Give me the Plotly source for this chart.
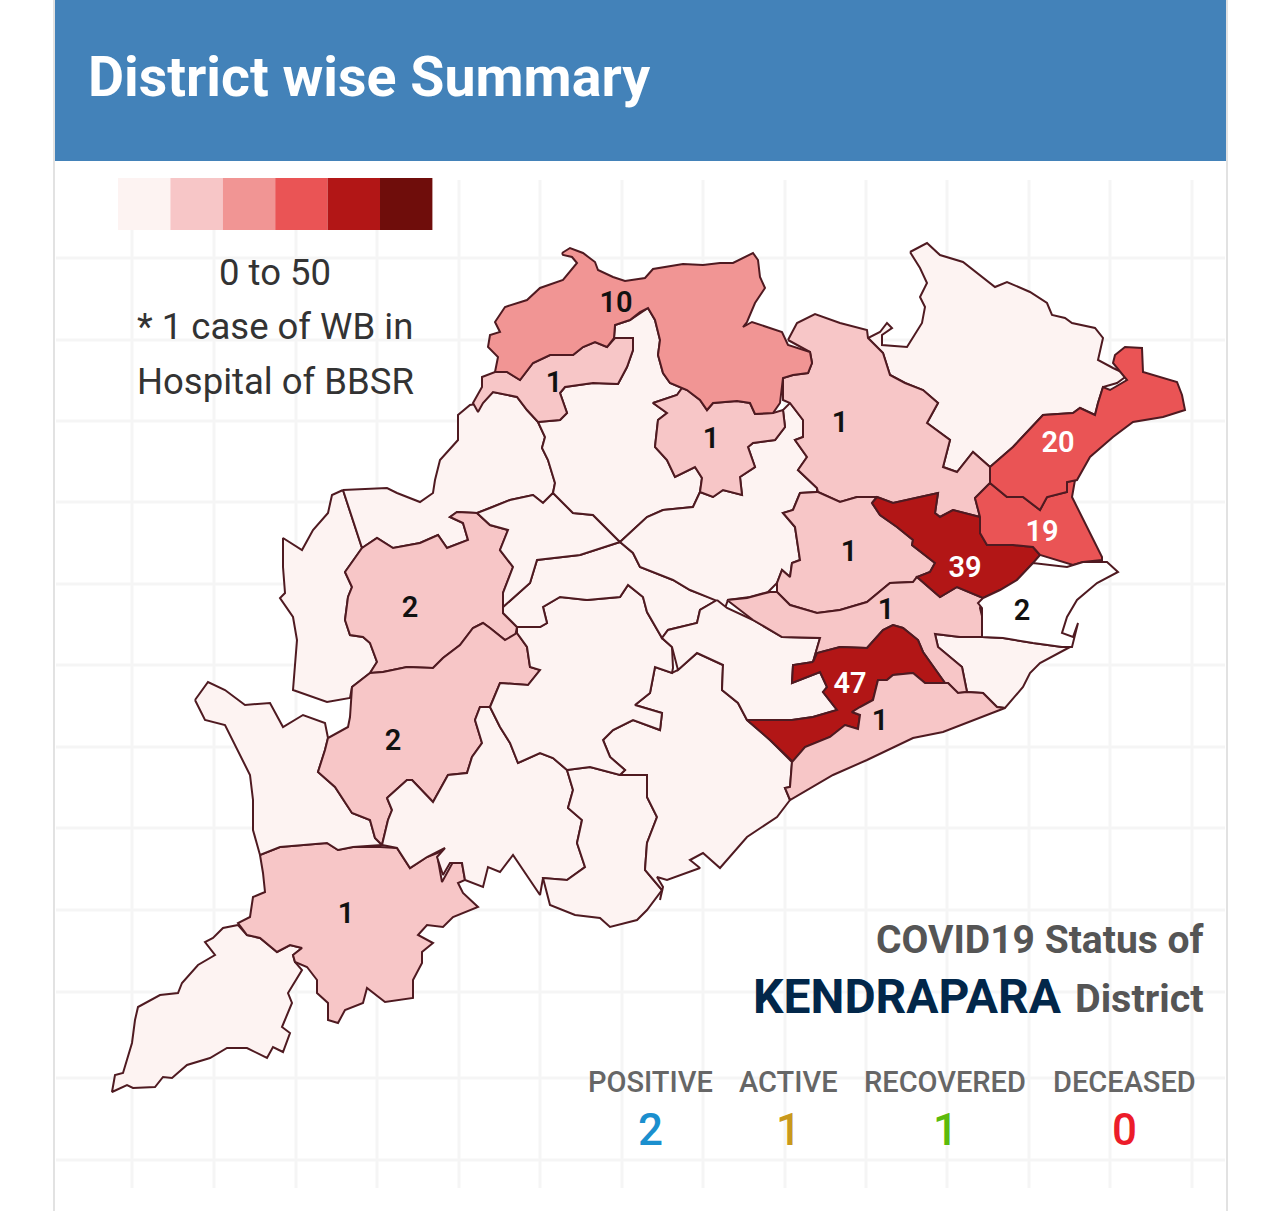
import plotly.graph_objects as go

# district outlines in page pixels
malkangiri = [(238,925),(223,928),(213,938),(205,942),(215,955),(198,965),(182,983),(178,993),(160,995),(138,1007),(135,1020),(132,1043),(123,1073),(115,1075),(112,1092),(127,1085),(133,1088),(155,1087),(163,1077),(172,1078),(187,1065),(210,1058),(227,1048),(247,1048),(267,1058),(273,1047),(283,1052),(290,1033),(282,1027),(292,1003),(288,993),(302,970),(295,962),(293,955),(302,948),(290,945),(277,952),(260,938),(247,935)]
koraput = [(260,855),(280,847),(327,843),(338,850),(353,847),(380,847),(397,848),(410,868),(427,857),(445,850),(438,860),(442,882),(453,862),(462,863),(465,880),(458,883),(463,893),(478,907),(453,917),(443,927),(427,925),(418,935),(433,943),(422,952),(422,963),(413,980),(413,998),(385,1002),(367,988),(363,1003),(345,1010),(338,1023),(328,1020),(328,1003),(317,993),(317,980),(307,967),(295,962),(293,955),(302,948),(290,945),(277,952),(260,938),(247,935),(238,923),(250,917),(253,897),(265,892),(263,873)]
nabarangpur = [(195,700),(208,682),(225,690),(245,705),(270,703),(283,727),(303,715),(325,723),(328,738),(325,750),(318,772),(335,787),(352,813),(370,820),(375,838),(382,845),(353,847),(338,850),(327,843),(280,847),(260,855),(253,830),(253,800),(250,775),(225,725),(205,720)]
nuapada = [(343,490),(332,495),(328,513),(313,530),(302,550),(283,538),(283,567),(285,593),(280,598),(293,617),(297,640),(293,690),(327,702),(350,698),(352,687),(370,673),(377,662),(370,643),(363,637),(350,635),(345,620),(348,597),(352,587),(345,572),(362,548)]
bargarh = [(343,490),(387,488),(397,493),(420,502),(433,493),(435,480),(440,460),(458,440),(458,415),(470,405),(482,403),(493,392),(517,397),(527,410),(538,422),(545,437),(542,448),(548,460),(555,483),(553,493),(543,503),(533,495),(510,500),(490,508),(477,513),(457,512),(450,517),(463,523),(468,540),(447,548),(438,535),(420,543),(393,548),(377,538),(362,548)]
balangir = [(362,548),(377,538),(393,548),(420,543),(438,535),(447,548),(468,540),(463,523),(450,517),(457,512),(477,513),(490,525),(508,530),(500,550),(513,567),(503,593),(503,613),(517,627),(515,637),(505,640),(490,628),(483,623),(473,628),(460,645),(443,658),(433,668),(407,667),(383,672),(370,673),(377,662),(370,643),(363,637),(350,635),(345,620),(348,597),(352,587),(345,572)]
kalahandi = [(370,673),(383,672),(407,667),(433,668),(443,658),(460,645),(473,628),(483,623),(490,628),(505,640),(517,633),(527,647),(530,667),(540,670),(528,685),(500,683),(490,707),(480,707),(475,720),(482,743),(472,757),(467,773),(448,775),(433,802),(412,780),(407,780),(387,798),(392,810),(388,820),(382,845),(375,838),(370,820),(352,813),(335,787),(318,772),(325,750),(328,738),(348,727),(350,717),(352,687)]
rayagada = [(387,798),(407,780),(412,780),(433,802),(448,775),(467,773),(472,757),(482,743),(475,720),(480,707),(490,707),(500,727),(510,743),(518,763),(540,753),(553,758),(567,770),(573,790),(568,808),(582,820),(577,843),(585,867),(567,880),(543,878),(540,895),(513,855),(500,872),(488,867),(483,887),(465,880),(462,863),(450,863),(443,875),(437,857),(445,848),(427,857),(410,868),(397,848),(382,845),(388,820),(392,810)]
gajapati = [(567,770),(590,767),(620,775),(647,775),(647,797),(657,817),(647,843),(645,870),(662,890),(647,910),(637,920),(610,927),(600,918),(575,915),(550,905),(543,878),(567,880),(585,867),(577,843),(582,820),(568,808),(573,790)]
ganjam = [(790,800),(777,817),(747,837),(720,868),(703,853),(690,860),(700,868),(667,880),(657,877),(663,887),(660,900),(662,890),(645,870),(647,843),(657,817),(647,797),(647,775),(620,775),(625,770),(610,757),(603,740),(613,730),(633,720),(660,730),(662,713),(635,705),(650,693),(655,667),(672,673),(678,670),(697,653),(723,665),(722,690),(738,703),(747,720),(770,740),(792,762),(790,787),(785,788)]
kandhamal = [(517,627),(540,627),(547,623),(543,607),(560,597),(587,600),(620,597),(628,585),(643,597),(647,612),(662,638),(672,647),(673,668),(672,673),(655,667),(650,693),(635,705),(662,713),(660,730),(633,720),(613,730),(603,740),(610,757),(625,770),(620,775),(590,767),(567,770),(553,758),(540,753),(518,763),(510,743),(500,727),(490,707),(500,683),(528,685),(540,670),(530,667),(527,647),(517,633)]
boudh = [(620,542),(580,555),(537,560),(530,583),(503,607),(503,613),(517,627),(540,627),(547,623),(543,607),(560,597),(587,600),(620,597),(628,585),(643,597),(647,612),(662,638),(668,630),(697,623),(700,610),(717,600),(690,590),(673,580),(640,567),(633,553)]
subarnapur = [(490,508),(510,500),(533,495),(543,503),(553,493),(573,513),(593,515),(620,542),(580,555),(537,560),(530,583),(503,607),(503,593),(513,567),(500,550),(508,530),(490,525),(477,513)]
sambalpur = [(648,308),(630,320),(615,325),(614,338),(633,338),(633,350),(627,367),(618,384),(593,383),(565,387),(560,393),(567,413),(560,420),(538,422),(545,437),(542,448),(548,460),(555,483),(553,493),(573,513),(593,515),(620,542),(647,517),(663,510),(693,507),(700,492),(702,478),(695,467),(675,477),(667,460),(655,447),(658,420),(667,413),(653,403),(677,395),(682,388),(670,383),(663,373),(658,355),(660,340),(655,320)]
angul = [(620,542),(647,517),(663,510),(693,507),(700,492),(713,497),(723,490),(742,495),(740,477),(755,467),(748,447),(753,443),(775,440),(785,427),(783,410),(790,403),(803,420),(803,437),(795,440),(807,457),(798,470),(817,488),(817,492),(800,493),(793,510),(783,513),(795,527),(800,560),(792,563),(790,577),(782,570),(777,583),(768,592),(750,597),(728,600),(725,608),(715,600),(690,590),(673,580),(640,567),(633,553)]
nayagarh = [(717,600),(727,608),(753,620),(782,637),(820,638),(813,662),(793,665),(792,683),(820,672),(827,687),(823,692),(837,710),(813,717),(792,720),(770,720),(747,720),(738,703),(722,690),(723,665),(697,653),(678,670),(672,647),(662,638),(668,630),(697,623),(700,610)]
jagatsinghpur = [(935,634),(960,637),(982,637),(1003,638),(1033,643),(1062,647),(1070,647),(1040,663),(1030,673),(1023,687),(1005,708),(997,707),(983,693),(967,692),(962,667),(938,647)]
mayurbhanj = [(910,252),(927,243),(940,255),(963,262),(995,287),(1007,282),(1030,292),(1047,303),(1052,315),(1065,318),(1072,323),(1095,328),(1103,338),(1098,360),(1113,368),(1128,375),(1117,383),(1103,387),(1098,403),(1095,415),(1080,408),(1073,413),(1043,415),(1013,447),(990,467),(973,452),(957,472),(943,467),(950,440),(927,423),(938,403),(923,390),(905,383),(890,375),(883,353),(868,338),(880,332),(887,323),(892,328),(882,335),(882,345),(907,347),(922,323),(925,307),(920,297),(927,283),(920,268)]
keonjhar = [(788,340),(797,323),(815,314),(840,323),(867,330),(868,338),(883,353),(890,375),(905,383),(923,390),(938,403),(927,423),(950,440),(943,467),(957,472),(973,452),(990,467),(990,483),(975,498),(980,517),(953,510),(940,517),(935,513),(938,493),(920,497),(893,503),(877,497),(857,497),(840,502),(818,492),(817,488),(798,470),(807,457),(795,440),(803,437),(803,420),(790,403),(783,400),(783,378),(793,375),(808,373),(812,363),(810,352)]
deogarh = [(682,388),(687,390),(700,400),(707,410),(713,403),(737,401),(750,403),(755,414),(773,413),(783,410),(785,427),(775,440),(753,443),(748,447),(755,467),(740,477),(742,495),(723,490),(713,497),(700,492),(702,478),(695,467),(675,477),(667,460),(655,447),(658,420),(667,413),(653,403),(677,395)]
jharsuguda = [(615,338),(633,338),(633,350),(627,367),(618,384),(593,383),(565,387),(560,393),(567,413),(560,420),(538,422),(527,410),(517,397),(493,392),(483,403),(478,412),(473,403),(482,387),(482,377),(495,372),(507,372),(520,380),(533,363),(550,355),(573,355),(583,347),(595,342),(607,347)]
sundargarh = [(562,253),(570,248),(583,253),(595,262),(598,270),(613,277),(625,281),(645,278),(653,269),(683,264),(703,265),(720,263),(733,263),(753,253),(758,260),(760,277),(765,288),(755,303),(747,322),(743,327),(752,322),(767,327),(782,332),(788,345),(810,352),(812,363),(808,373),(793,375),(783,378),(780,403),(773,413),(755,414),(750,403),(737,401),(713,403),(707,410),(700,400),(687,390),(680,387),(670,383),(663,373),(658,355),(660,340),(655,320),(648,308),(640,312),(630,320),(615,325),(614,338),(607,347),(595,342),(583,347),(573,355),(550,355),(533,363),(520,380),(507,372),(495,372),(498,357),(488,347),(490,335),(500,332),(495,322),(505,307),(527,300),(540,288),(563,280),(577,263),(572,257),(563,255)]
dhenkanal = [(817,492),(800,493),(793,510),(783,513),(795,527),(800,560),(792,563),(790,577),(782,570),(777,583),(777,592),(790,605),(817,613),(840,610),(867,602),(890,583),(913,582),(917,577),(930,572),(935,563),(912,545),(913,540),(897,527),(880,515),(872,503),(877,497),(857,497),(840,502),(818,492)]
cuttack = [(727,600),(747,598),(770,592),(777,592),(790,605),(817,613),(840,610),(867,602),(890,583),(913,582),(917,577),(940,597),(957,587),(983,598),(980,608),(983,620),(982,637),(960,637),(935,634),(938,647),(962,667),(967,692),(958,693),(948,683),(945,683),(923,652),(918,640),(903,628),(893,625),(883,630),(867,648),(840,647),(817,653),(813,662),(820,638),(782,637),(753,620)]
khordha = [(813,662),(817,653),(840,647),(867,648),(883,630),(893,625),(903,628),(918,640),(923,652),(945,683),(925,683),(913,673),(893,675),(887,680),(878,680),(873,700),(860,707),(852,712),(860,715),(858,729),(845,725),(830,737),(805,747),(793,762),(770,740),(747,720),(770,720),(792,720),(813,717),(837,710),(823,692),(827,687),(820,672),(792,683),(793,665)]
puri = [(878,680),(887,680),(893,675),(913,673),(925,683),(948,683),(958,693),(967,692),(983,693),(997,707),(1005,708),(943,732),(913,738),(867,760),(833,775),(790,800),(785,788),(790,787),(792,762),(805,747),(830,737),(845,725),(858,729),(860,715),(852,712),(860,707),(873,700)]
jajpur = [(872,503),(877,497),(893,503),(920,497),(938,493),(935,513),(940,517),(953,510),(980,517),(980,533),(987,545),(1013,545),(1033,547),(1040,555),(1033,563),(1017,580),(1000,590),(983,598),(957,587),(940,597),(917,577),(930,572),(935,563),(912,545),(913,540),(897,527),(880,515)]
bhadrak = [(990,483),(1007,497),(1023,497),(1040,510),(1047,497),(1067,492),(1067,482),(1075,480),(1072,497),(1102,557),(1102,560),(1083,562),(1073,565),(1063,562),(1040,555),(1033,547),(1013,545),(987,545),(980,533),(980,517),(975,498)]
balasore = [(990,467),(1013,447),(1043,415),(1073,413),(1080,408),(1095,415),(1098,403),(1103,387),(1110,390),(1127,380),(1113,363),(1115,355),(1125,347),(1142,348),(1143,372),(1177,382),(1182,395),(1185,410),(1163,417),(1133,422),(1113,437),(1090,457),(1077,480),(1067,482),(1067,492),(1047,497),(1040,510),(1023,497),(1007,497),(990,483)]
kendrapara = [(982,637),(982,608),(978,603),(983,598),(1000,590),(1017,580),(1033,563),(1067,567),(1083,562),(1107,562),(1118,572),(1097,583),(1077,600),(1067,617),(1062,633),(1073,637),(1078,623),(1072,647),(1062,647),(1033,643),(1003,638)]

outlines = [malkangiri, koraput, nabarangpur, nuapada, bargarh, balangir, kalahandi, rayagada, gajapati,
            ganjam, kandhamal, boudh, subarnapur, sambalpur, angul, nayagarh, jagatsinghpur, mayurbhanj,
            keonjhar, deogarh, jharsuguda, sundargarh, dhenkanal, cuttack, khordha, puri, jajpur, bhadrak,
            balasore, kendrapara]
districts = ['Malkangiri', 'Koraput', 'Nabarangpur', 'Nuapada', 'Bargarh', 'Balangir', 'Kalahandi', 'Rayagada', 'Gajapati',
             'Ganjam', 'Kandhamal', 'Boudh', 'Subarnapur', 'Sambalpur', 'Angul', 'Nayagarh', 'Jagatsinghpur', 'Mayurbhanj',
             'Keonjhar', 'Deogarh', 'Jharsuguda', 'Sundargarh', 'Dhenkanal', 'Cuttack', 'Khordha', 'Puri', 'Jajpur', 'Bhadrak',
             'Balasore', 'Kendrapara']
cases = [0, 1, 0, 0, 0, 2, 2, 0, 0, 0, 0, 0, 0, 0, 0, 0, 0, 0, 1, 1, 1, 10, 1, 1, 47, 1, 39, 19, 20, 2]
selected = 'Kendrapara'

# where the number sits on each district that has one
label_x = {'Koraput': 346, 'Balangir': 410, 'Kalahandi': 393, 'Keonjhar': 840, 'Deogarh': 711, 'Jharsuguda': 554,
           'Sundargarh': 616, 'Dhenkanal': 849, 'Cuttack': 886, 'Khordha': 850, 'Puri': 880, 'Jajpur': 965,
           'Bhadrak': 1042, 'Balasore': 1058, 'Kendrapara': 1022}
label_y = {'Koraput': 916, 'Balangir': 610, 'Kalahandi': 743, 'Keonjhar': 425, 'Deogarh': 441, 'Jharsuguda': 385,
           'Sundargarh': 305, 'Dhenkanal': 554, 'Cuttack': 612, 'Khordha': 686, 'Puri': 723, 'Jajpur': 570,
           'Bhadrak': 534, 'Balasore': 445, 'Kendrapara': 613}

bin_colors = ['#fdf3f2', '#f7c6c7', '#f19594', '#ea5455', '#b21616', '#6f0d0b']
bin_edges = [1, 10, 19, 39, 50]

stat_names = ['POSITIVE', 'ACTIVE', 'RECOVERED', 'DECEASED']
stat_values = [2, 1, 1, 0]
stat_colors = ['#1b8fce', '#c9991c', '#5cba0c', '#ec1c2a']
stat_x = [650, 788, 945, 1124]

grid_x = [132, 214, 296, 377, 459, 540, 622, 703, 785, 866, 947, 1029, 1110, 1192]
grid_y = [258, 340, 421, 502, 584, 665, 747, 828, 910, 992, 1078, 1160]


def color_for(value):
    for i, edge in enumerate(bin_edges):
        if value < edge:
            return bin_colors[i]
    return bin_colors[-1]


fig = go.Figure()

# notebook style grid behind the map
gx, gy = [], []
for x in grid_x:
    gx += [x, x, None]
    gy += [180, 1188, None]
for y in grid_y:
    gx += [56, 1225, None]
    gy += [y, y, None]
fig.add_trace(go.Scatter(x=gx, y=gy, mode='lines', line=dict(color='#f5f5f5', width=3), hoverinfo='skip'))

for name, outline, value in zip(districts, outlines, cases):
    xs = [p[0] for p in outline] + [outline[0][0]]
    ys = [p[1] for p in outline] + [outline[0][1]]
    fill = '#ffffff' if name == selected else color_for(value)
    fig.add_trace(go.Scatter(x=xs, y=ys, mode='lines', fill='toself', fillcolor=fill,
                             line=dict(color='#4f1a21', width=2), name=name,
                             text=f'{name}: {value}', hoverinfo='text'))

# numbers, white on the two darkest bins in use
named = [d for d in districts if d in label_x]
values = [cases[districts.index(d)] for d in named]
fig.add_trace(go.Scatter(x=[label_x[d] for d in named], y=[label_y[d] for d in named], mode='text',
                         text=[str(v) for v in values], hoverinfo='skip',
                         textfont=dict(family='Roboto', size=29, weight=600,
                                       color=['#ffffff' if v >= 19 else '#111111' for v in values])))

# scale swatches
for i, c in enumerate(bin_colors):
    fig.add_shape(type='rect', x0=118 + i * 52.4, x1=118 + (i + 1) * 52.4, y0=178, y1=230,
                  fillcolor=c, line_width=0, layer='above')

# header band and card edges
fig.add_shape(type='rect', x0=55, x1=1226, y0=0, y1=161, fillcolor='#4382b9', line_width=0, layer='above')
fig.add_shape(type='line', x0=54, x1=54, y0=0, y1=1211, line=dict(color='#e2e2e2', width=2))
fig.add_shape(type='line', x0=1227, x1=1227, y0=0, y1=1211, line=dict(color='#e2e2e2', width=2))


def note(x, y, text, size, color, anchor='center', weight=400):
    fig.add_annotation(x=x, y=y, text=text, showarrow=False, xanchor=anchor, yanchor='middle',
                       font=dict(family='Roboto', size=size, color=color, weight=weight))


note(86, 77, 'District wise Summary', 55.5, '#ffffff', 'left', 700)
note(275, 272, '0 to 50', 36.5, '#333333')
note(275, 326, '* 1 case of WB in', 36.5, '#333333')
note(275, 381, 'Hospital of BBSR', 36.5, '#333333')
note(1206, 940, 'COVID19 Status of', 39, '#555555', 'right', 700)
note(1064, 996, 'KENDRAPARA', 48, '#02274a', 'right', 700)
note(1206, 998, 'District', 39.5, '#555555', 'right', 700)
for name, value, color, x in zip(stat_names, stat_values, stat_colors, stat_x):
    note(x, 1082, name, 29, '#666666', weight=500)
    note(x, 1130, str(value), 44, color, weight=500)

fig.update_layout(
    width=1280, height=1211, margin=dict(l=0, r=0, t=0, b=0),
    paper_bgcolor='white', plot_bgcolor='white', showlegend=False,
    xaxis=dict(range=[0, 1280], visible=False, fixedrange=True),
    yaxis=dict(range=[1211, 0], visible=False, fixedrange=True),
)
fig.write_html("out.html", config={'displayModeBar': False}, post_script="document.body.style.margin='0'")
